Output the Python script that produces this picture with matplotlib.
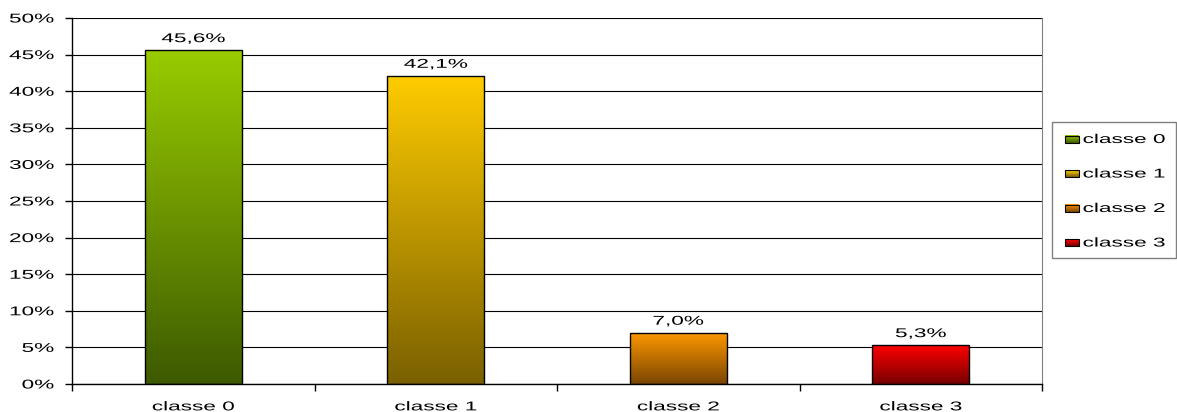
import numpy as np
import matplotlib
matplotlib.use("Agg")
import matplotlib.pyplot as plt
from matplotlib.colors import LinearSegmentedColormap, to_rgb
from matplotlib.patches import Rectangle
from matplotlib.patheffects import AbstractPathEffect
from matplotlib.transforms import Affine2D

categories = ["classe 0", "classe 1", "classe 2", "classe 3"]
values = [45.6, 42.1, 7.0, 5.3]
labels = ["45,6%", "42,1%", "7,0%", "5,3%"]
top_colors = ["#99CC00", "#FFCC00", "#FF9900", "#FF0000"]
bottom_colors = ["#3D5A00", "#7A6000", "#7A4500", "#780000"]
yticks = [0, 5, 10, 15, 20, 25, 30, 35, 40, 45, 50]

plt.rcParams["font.family"] = ["Liberation Sans", "DejaVu Sans"]
FS = 9.2
SX = 1.77


class HStretch(AbstractPathEffect):
    """Stretch text glyphs horizontally around an anchor (text stays real text)."""
    def __init__(self, sx=SX, anchor="center"):
        super().__init__()
        self.sx = sx
        self.anchor = anchor

    def draw_path(self, renderer, gc, tpath, affine, rgbFace=None):
        ext = tpath.get_extents()
        if self.anchor == "center":
            cx = (ext.x0 + ext.x1) / 2
        elif self.anchor == "right":
            cx = ext.x1
        else:
            cx = ext.x0
        pre = Affine2D().translate(-cx, 0).scale(self.sx, 1).translate(cx, 0)
        renderer.draw_path(gc, tpath, pre + affine, rgbFace)


W, H = 1177, 412
fig = plt.figure(figsize=(W / 100, H / 100), dpi=100)
ax = fig.add_axes([72 / W, 1 - 384 / H, (1042 - 72) / W, (384 - 18) / H])

x = np.arange(len(categories))
bars = ax.bar(x, values, width=0.4, color="none", edgecolor="black", linewidth=1.0, zorder=3)

grad = np.linspace(1, 0, 256).reshape(-1, 1)
for b, tc, bc in zip(bars, top_colors, bottom_colors):
    cmap = LinearSegmentedColormap.from_list("g", [bc, tc])
    x0, y0 = b.get_x(), b.get_y()
    w, h = b.get_width(), b.get_height()
    im = ax.imshow(grad, cmap=cmap, aspect="auto", extent=[x0, x0 + w, y0, y0 + h],
                   origin="upper", zorder=2, vmin=0, vmax=1)
    im.set_clip_path(b)

for xi, v, lab in zip(x, values, labels):
    ax.annotate(lab, (xi, v), xytext=(0, 5.8), textcoords="offset points",
                ha="center", va="baseline", fontsize=FS, color="black",
                path_effects=[HStretch(anchor="center")])

ax.set_xlim(-0.5, len(categories) - 0.5)
ax.set_ylim(0, 50)
ax.set_yticks(yticks)
ax.set_yticklabels([f"{t}%" for t in yticks], fontsize=FS)
ax.set_xticks(x)
ax.set_xticklabels(categories, fontsize=FS)
ax.tick_params(axis="x", length=0, pad=12.5)
ax.set_xticks(np.arange(-0.5, len(categories), 1.0), minor=True)
ax.tick_params(axis="x", which="minor", length=5, direction="out", width=1)
ax.tick_params(axis="y", length=5, direction="out", width=1, pad=8)
for t in ax.get_xticklabels():
    t.set_path_effects([HStretch(anchor="center")])
for t in ax.get_yticklabels():
    t.set_path_effects([HStretch(anchor="right")])
ax.yaxis.grid(True, color="black", linewidth=0.8, zorder=1)
ax.set_axisbelow(True)
ax.spines["top"].set_visible(False)
ax.spines["right"].set_color("#808080")
ax.spines["left"].set_linewidth(1)
ax.spines["bottom"].set_linewidth(1)


# legend (drawn manually so the frame fits the stretched text)
def fx(px):
    return px / W


def fy(py):
    return 1 - py / H


fig.add_artist(Rectangle((fx(1052), fy(258)), fx(1176) - fx(1052), fy(122) - fy(258),
                         transform=fig.transFigure, facecolor="white",
                         edgecolor="#808080", linewidth=1))
centers = [139, 173.5, 208, 242.5]
for cat, c, tc, bc in zip(categories, centers, top_colors, bottom_colors):
    n = 8
    t = np.array(to_rgb(tc)); bcol = np.array(to_rgb(bc))
    for i in range(n):
        f = (i + 0.5) / n
        col = bcol + (t - bcol) * f
        fig.add_artist(Rectangle((fx(1065), fy(c + 3.5 - 7 * i / n)), fx(1079) - fx(1065), 7 / n / H,
                                 transform=fig.transFigure, facecolor=col, edgecolor="none"))
    fig.add_artist(Rectangle((fx(1065), fy(c + 3.5)), fx(1079) - fx(1065), 7 / H,
                             transform=fig.transFigure, facecolor="none",
                             edgecolor="black", linewidth=0.8))
    fig.text(fx(1083), fy(c + 4), cat, ha="left", va="baseline", fontsize=FS,
             path_effects=[HStretch(anchor="left")])

fig.savefig("out.png", dpi=100)
